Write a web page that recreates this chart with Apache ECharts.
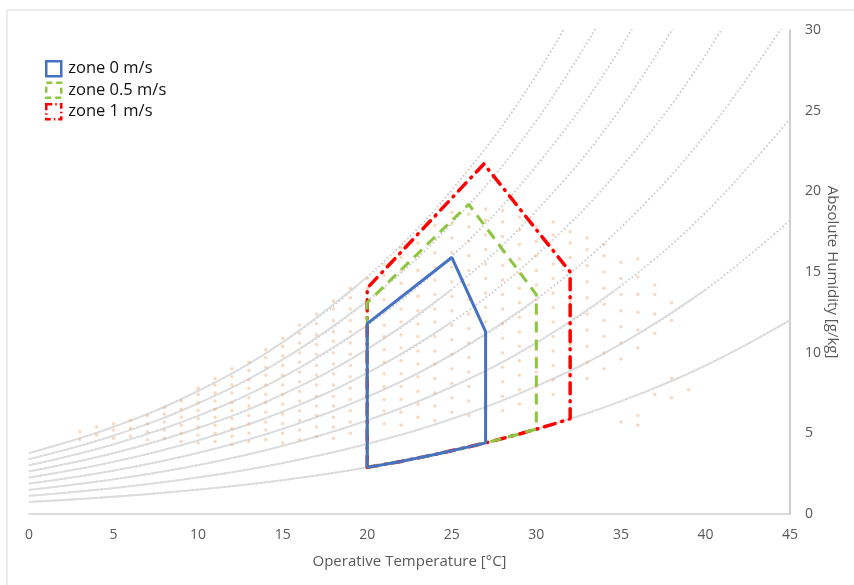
<!DOCTYPE html>
<html><head><meta charset="utf-8">
<script src="https://cdn.jsdelivr.net/npm/echarts@6/dist/echarts.min.js"></script>
<style>html,body{margin:0;padding:0;background:#fff}#c{width:854px;height:585px}</style>
</head><body><div id="c"></div>
<script>
// Relative-humidity reference curves (absolute humidity g/kg at each temperature)
const rhTemps = [0, 5, 10, 15, 20, 25, 30, 35, 40, 45];
const rh20  = [0.75, 1.07, 1.51, 2.10, 2.89, 3.92, 5.26, 6.99, 9.20, 12.01];
const rh30  = [1.13, 1.61, 2.27, 3.16, 4.34, 5.89, 7.92, 10.54, 13.90, 18.19];
const rh40  = [1.50, 2.15, 3.03, 4.22, 5.80, 7.88, 10.61, 14.14, 18.68, 24.49];
const rh50  = [1.88, 2.69, 3.79, 5.28, 7.26, 9.88, 13.31, 17.77, 23.52, 30.91];
const rh60  = [2.26, 3.23, 4.56, 6.35, 8.74, 11.90, 16.05, 21.45, 28.44, 37.47];
const rh70  = [2.64, 3.77, 5.32, 7.42, 10.22, 13.93, 18.80, 25.17, 33.44];
const rh80  = [3.02, 4.32, 6.09, 8.49, 11.70, 15.97, 21.58, 28.93, 38.50];
const rh90  = [3.40, 4.86, 6.86, 9.57, 13.20, 18.02, 24.38, 32.73];
const rh100 = [3.78, 5.40, 7.63, 10.65, 14.70, 20.09, 27.21, 36.58];
const rhCurves = [rh20, rh30, rh40, rh50, rh60, rh70, rh80, rh90, rh100];

// Comfort zones (temperature °C, absolute humidity g/kg)
const zone0T  = [20, 22, 24, 26, 27, 27, 25, 20, 20];
const zone0H  = [2.89, 3.26, 3.69, 4.16, 4.41, 11.3, 15.9, 11.8, 2.89];
const zone05T = [20, 22, 24, 26, 27, 28, 29, 30, 30, 26, 20, 20];
const zone05H = [2.89, 3.26, 3.69, 4.16, 4.41, 4.68, 4.96, 5.26, 13.6, 19.2, 13.1, 2.89];
const zone1T  = [20, 22, 24, 26, 27, 28, 29, 30, 31, 32, 32, 26.9, 20, 20];
const zone1H  = [2.89, 3.26, 3.69, 4.16, 4.41, 4.68, 4.96, 5.26, 5.57, 5.90, 15.0, 21.7, 14.0, 2.89];
const zoneNames = ['zone 0 m/s', 'zone 0.5 m/s', 'zone 1 m/s'];

// Observations: temperature columns and humidity values in each column
const obsColumns = [3,4,5,6,7,8,9,10,11,12,13,14,15,16,17,18,19,20,21,22,23,24,25,26,27,28,29,30,31,32,33,34,35,36,37,38,39];
const obsHumidity = [
  [4.6, 5.1],
  [4.9, 5.4],
  [4.7, 5.2, 5.6],
  [4.8, 5.3, 5.8],
  [4.6, 5.1, 5.6, 6.1],
  [4.7, 5.2, 5.7, 6.2, 6.6],
  [4.5, 5.0, 5.5, 6.0, 6.5, 7.0],
  [4.4, 4.9, 5.4, 5.9, 6.4, 6.9, 7.4, 7.8],
  [4.5, 5.0, 5.5, 6.0, 6.5, 7.0, 7.5, 8.0, 8.4],
  [4.3, 4.8, 5.3, 5.9, 6.4, 6.9, 7.5, 8.0, 8.5, 9.0],
  [4.5, 5.0, 5.6, 6.1, 6.7, 7.2, 7.8, 8.3, 8.9, 9.4],
  [4.6, 5.2, 5.7, 6.3, 6.9, 7.4, 8.0, 8.6, 9.1, 9.7, 10.2],
  [4.4, 5.0, 5.6, 6.2, 6.8, 7.4, 8.0, 8.6, 9.2, 9.8, 10.4, 10.9],
  [4.6, 5.2, 5.8, 6.4, 7.0, 7.6, 8.2, 8.8, 9.4, 10.0, 10.6, 11.2, 11.7],
  [4.8, 5.4, 6.1, 6.7, 7.3, 8.0, 8.6, 9.2, 9.9, 10.5, 11.1, 11.8, 12.4],
  [4.7, 5.4, 6.0, 6.7, 7.3, 8.0, 8.7, 9.3, 10.0, 10.7, 11.3, 12.0, 12.7, 13.2],
  [5.0, 5.7, 6.4, 7.1, 7.8, 8.5, 9.2, 9.9, 10.6, 11.3, 12.0, 12.7, 13.4, 14.0],
  [5.2, 5.9, 6.6, 7.4, 8.1, 8.8, 9.6, 10.3, 11.0, 11.8, 12.5, 13.2, 14.0, 14.6],
  [5.6, 6.4, 7.1, 7.9, 8.7, 9.4, 10.2, 11.0, 11.7, 12.5, 13.3, 14.0, 14.8, 15.5],
  [5.5, 6.3, 7.1, 7.9, 8.7, 9.5, 10.3, 11.1, 11.9, 12.7, 13.5, 14.3, 15.1, 15.9, 16.5],
  [6.0, 6.8, 7.6, 8.5, 9.3, 10.1, 11.0, 11.8, 12.6, 13.5, 14.3, 15.1, 16.0, 16.8, 17.4],
  [5.8, 6.7, 7.5, 8.4, 9.3, 10.1, 11.0, 11.9, 12.7, 13.6, 14.5, 15.3, 16.2, 17.1, 17.9, 18.4],
  [6.3, 7.2, 8.1, 9.0, 9.9, 10.8, 11.7, 12.6, 13.5, 14.4, 15.3, 16.2, 17.1, 18.0, 18.7],
  [6.1, 7.0, 7.9, 8.8, 9.7, 10.6, 11.5, 12.4, 13.3, 14.2, 15.1, 16.0, 16.9, 17.8, 18.6],
  [6.5, 7.4, 8.3, 9.2, 10.1, 11.0, 11.9, 12.8, 13.7, 14.6, 15.5, 16.4, 17.3, 18.2, 18.9],
  [6.4, 7.3, 8.2, 9.1, 10.0, 10.9, 11.8, 12.7, 13.6, 14.5, 15.4, 16.3, 17.2, 18.1, 18.8],
  [6.8, 7.7, 8.6, 9.5, 10.4, 11.3, 12.2, 13.1, 14.0, 14.9, 15.8, 16.7, 17.6, 18.4],
  [7.0, 7.9, 8.8, 9.7, 10.6, 11.5, 12.4, 13.3, 14.2, 15.1, 16.0, 16.9, 17.8],
  [7.4, 8.3, 9.2, 10.1, 11.0, 11.9, 12.8, 13.7, 14.6, 15.5, 16.4, 17.3, 18.1],
  [7.8, 8.7, 9.6, 10.5, 11.4, 12.3, 13.2, 14.1, 15.0, 15.9, 16.8, 17.5],
  [8.4, 9.4, 10.4, 11.4, 12.4, 13.4, 14.4, 15.4, 16.4, 17.1],
  [9.0, 10.0, 11.0, 12.0, 13.0, 14.0, 15.0, 16.0, 16.7],
  [5.7, 9.6, 10.6, 11.6, 12.6, 13.6, 14.6, 15.6],
  [5.5, 6.1, 10.3, 11.4, 12.5, 13.6, 14.7, 15.8],
  [7.4, 11.2, 12.4, 13.6, 14.2],
  [7.2, 8.4, 12.0, 13.1],
  [7.7]
];

const FONT = 'Open Sans';
const series = [];

rhCurves.forEach(function (curve) {
  const pts = curve.map(function (h, i) { return [rhTemps[i], h]; });
  let k = 0;
  for (let i = 0; i < curve.length; i++) { if (curve[i] <= 15) k = i; }
  series.push({
    type: 'line', data: pts, smooth: 0.4, symbol: 'none', silent: true, z: 1,
    lineStyle: { color: '#c6c6c6', width: 1.8, type: [1.5, 2.5] }
  });
  series.push({
    type: 'line', data: pts.slice(0, k + 1), smooth: 0.4, symbol: 'none', silent: true, z: 1,
    lineStyle: { color: '#dcdcdc', width: 1.8 }
  });
});

const obsPts = [];
obsColumns.forEach(function (t, i) {
  obsHumidity[i].forEach(function (h) { obsPts.push([t, h]); });
});
series.push({
  type: 'scatter', data: obsPts, symbolSize: 3.5, z: 2, silent: true,
  itemStyle: { color: 'rgba(240,160,100,0.5)' }
});

function zoneData(T, H) { return T.map(function (t, i) { return [t, H[i]]; }); }

series.push({
  name: zoneNames[2], type: 'line', data: zoneData(zone1T, zone1H), symbol: 'none', z: 3,
  lineStyle: { color: '#FF0000', width: 3.5, type: [11, 7, 1, 7], cap: 'round' }
});
series.push({
  name: zoneNames[1], type: 'line', data: zoneData(zone05T, zone05H), symbol: 'none', z: 4,
  lineStyle: { color: '#8CC63F', width: 3, type: [11, 7] }
});
series.push({
  name: zoneNames[0], type: 'line', data: zoneData(zone0T, zone0H), symbol: 'none', z: 5,
  lineStyle: { color: '#4472C4', width: 3 }
});

const chart = echarts.init(document.getElementById('c'));
chart.setOption({
  animation: false,
  backgroundColor: '#fff',
  textStyle: { fontFamily: FONT },
  graphic: [{
    type: 'rect', shape: { x: 7, y: 10, width: 900, height: 600 },
    style: { fill: 'none', stroke: '#d9d9d9', lineWidth: 1 }, silent: true, z: -1
  }],
  grid: { left: 29, right: 64, top: 30, bottom: 71 },
  legend: {
    orient: 'vertical', left: 45, top: 60, padding: 0,
    itemWidth: 15, itemHeight: 15, itemGap: 4,
    selectedMode: false,
    textStyle: { fontFamily: FONT, fontSize: 16.5, lineHeight: 15, color: '#111', padding: [0, 0, 0, 2] },
    data: [
      { name: zoneNames[0], icon: 'rect', itemStyle: { color: '#fff', borderColor: '#4472C4', borderWidth: 2.5 } },
      { name: zoneNames[1], icon: 'rect', itemStyle: { color: '#fff', borderColor: '#8CC63F', borderWidth: 2.5, borderType: [6, 4] } },
      { name: zoneNames[2], icon: 'rect', itemStyle: { color: '#fff', borderColor: '#FF0000', borderWidth: 2.5, borderType: [6, 3, 1.5, 3] } }
    ]
  },
  xAxis: {
    type: 'value', min: 0, max: 45, interval: 5,
    name: 'Operative Temperature [°C]', nameLocation: 'middle', nameGap: 40,
    nameTextStyle: { fontFamily: FONT, fontSize: 15, color: '#595959' },
    axisLine: { show: true, onZero: false, lineStyle: { color: '#d0d0d0', width: 1.5 } },
    axisTick: { show: false },
    axisLabel: { fontFamily: FONT, fontSize: 14, color: '#595959', margin: 14 },
    splitLine: { show: false }
  },
  yAxis: {
    type: 'value', position: 'right', min: 0, max: 30, interval: 5,
    name: 'Absolute Humidity [g/kg]', nameLocation: 'middle', nameGap: 35, nameRotate: -90,
    nameMoveOverlap: false,
    nameTextStyle: { fontFamily: FONT, fontSize: 15, color: '#595959' },
    axisLine: { show: true, onZero: false, lineStyle: { color: '#bfbfbf', width: 1.5 } },
    axisTick: { show: false },
    axisLabel: { fontFamily: FONT, fontSize: 14, color: '#595959', margin: 15 },
    splitLine: { show: false }
  },
  series: series
});
</script>
</body></html>
